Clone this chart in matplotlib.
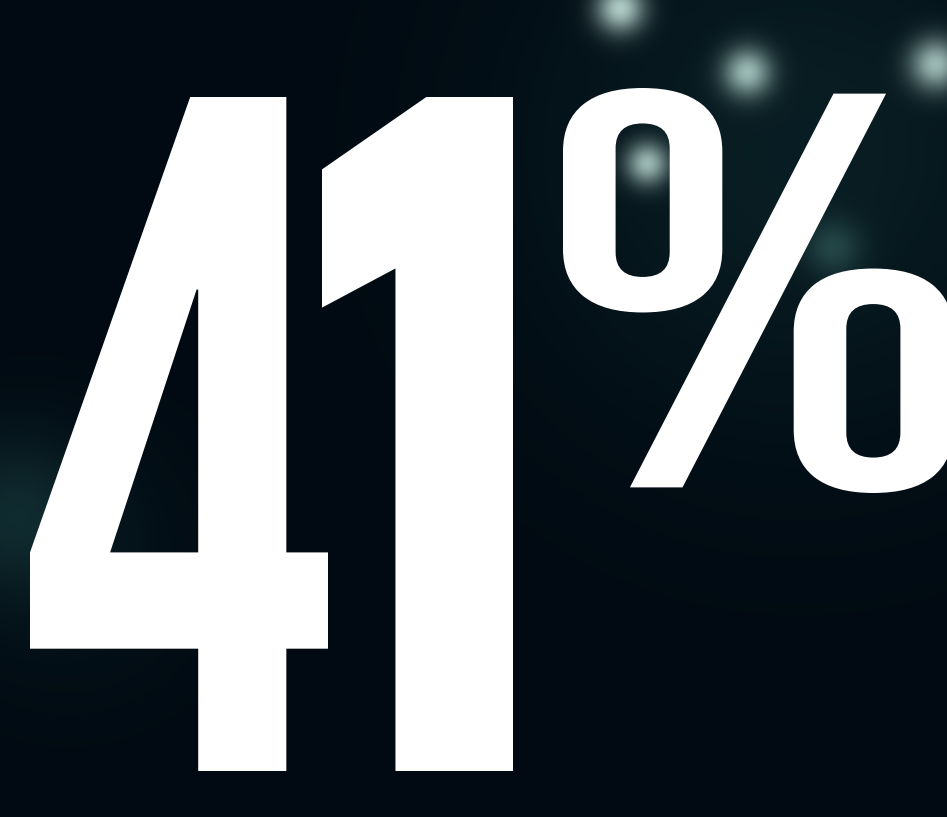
import numpy as np
import matplotlib.pyplot as plt
import matplotlib.patheffects as pe
from matplotlib.transforms import Affine2D

W, H = 947, 817

# the figure
value = 41
unit = '%'

# where each glyph sits (x left, x right, y top, y bottom), pixels from top-left
digit_boxes = [(30, 328, 97, 771), (322, 513, 97, 771)]
unit_box = (563, 953, 88, 493)
# font per digit (closest match to the condensed DIN-like face of the original)
digit_fonts = ['Bebas Neue', 'Saira Condensed']
digit_weights = ['bold', 800]

# blurred lights in the background
glow_x = [620, 747, 935, 647, 833, 14, 800, 70]
glow_y = [8, 72, 64, 163, 247, 515, 150, 560]
glow_r = [17, 17, 18, 15, 20, 55, 190, 90]
glow_a = [0.95, 0.95, 0.9, 0.9, 0.4, 0.3, 0.28, 0.12]
glow_c = ['#cfe8e0', '#cfe8e0', '#cfe8e0', '#cfe8e0', '#5f9590', '#2f6d6a', '#1d5150', '#1d5150']

bg_color = np.array([1, 10, 18]) / 255.0


class FitBox(pe.AbstractPathEffect):
    # stretch the glyph outline so its ink fills a given box
    def __init__(self, ax, box):
        super().__init__()
        self.ax = ax
        self.box = box

    def draw_path(self, renderer, gc, tpath, affine, rgbFace=None):
        ink = tpath.transformed(affine).get_extents()
        x0, x1, yt, yb = self.box
        (dx0, dy0), (dx1, dy1) = self.ax.transData.transform([(x0, yb), (x1, yt)])
        fit = (Affine2D().translate(-ink.x0, -ink.y0)
               .scale((dx1 - dx0) / ink.width, (dy1 - dy0) / ink.height)
               .translate(dx0, dy0))
        renderer.draw_path(gc, tpath, affine + fit, rgbFace)


fig = plt.figure(figsize=(W / 100, H / 100), dpi=100)
ax = fig.add_axes([0, 0, 1, 1])
ax.set_xlim(0, W)
ax.set_ylim(H, 0)
ax.axis('off')

# background
yy, xx = np.mgrid[0:H, 0:W]
img = np.ones((H, W, 3)) * bg_color
for x, y, r, a, c in zip(glow_x, glow_y, glow_r, glow_a, glow_c):
    col = np.array([int(c[i:i + 2], 16) for i in (1, 3, 5)]) / 255.0
    g = a * np.exp(-((xx - x) ** 2 + (yy - y) ** 2) / (2 * r ** 2))
    img = img * (1 - g[..., None]) + col * g[..., None]
ax.imshow(img, extent=[0, W, H, 0], aspect='auto', interpolation='bilinear')

for ch, box, fam, wt in zip(str(value), digit_boxes, digit_fonts, digit_weights):
    ax.text(box[0], (box[2] + box[3]) / 2, ch, fontsize=400, color='white',
            family=[fam, 'Roboto', 'DejaVu Sans'], weight=wt, ha='left', va='center',
            path_effects=[FitBox(ax, box)])
ax.text(unit_box[0], (unit_box[2] + unit_box[3]) / 2, unit, fontsize=250, color='white',
        family=['Bebas Neue', 'Roboto', 'DejaVu Sans'], weight='bold', ha='left', va='center',
        path_effects=[FitBox(ax, unit_box)])

fig.savefig('out.png', dpi=100, facecolor=bg_color)
